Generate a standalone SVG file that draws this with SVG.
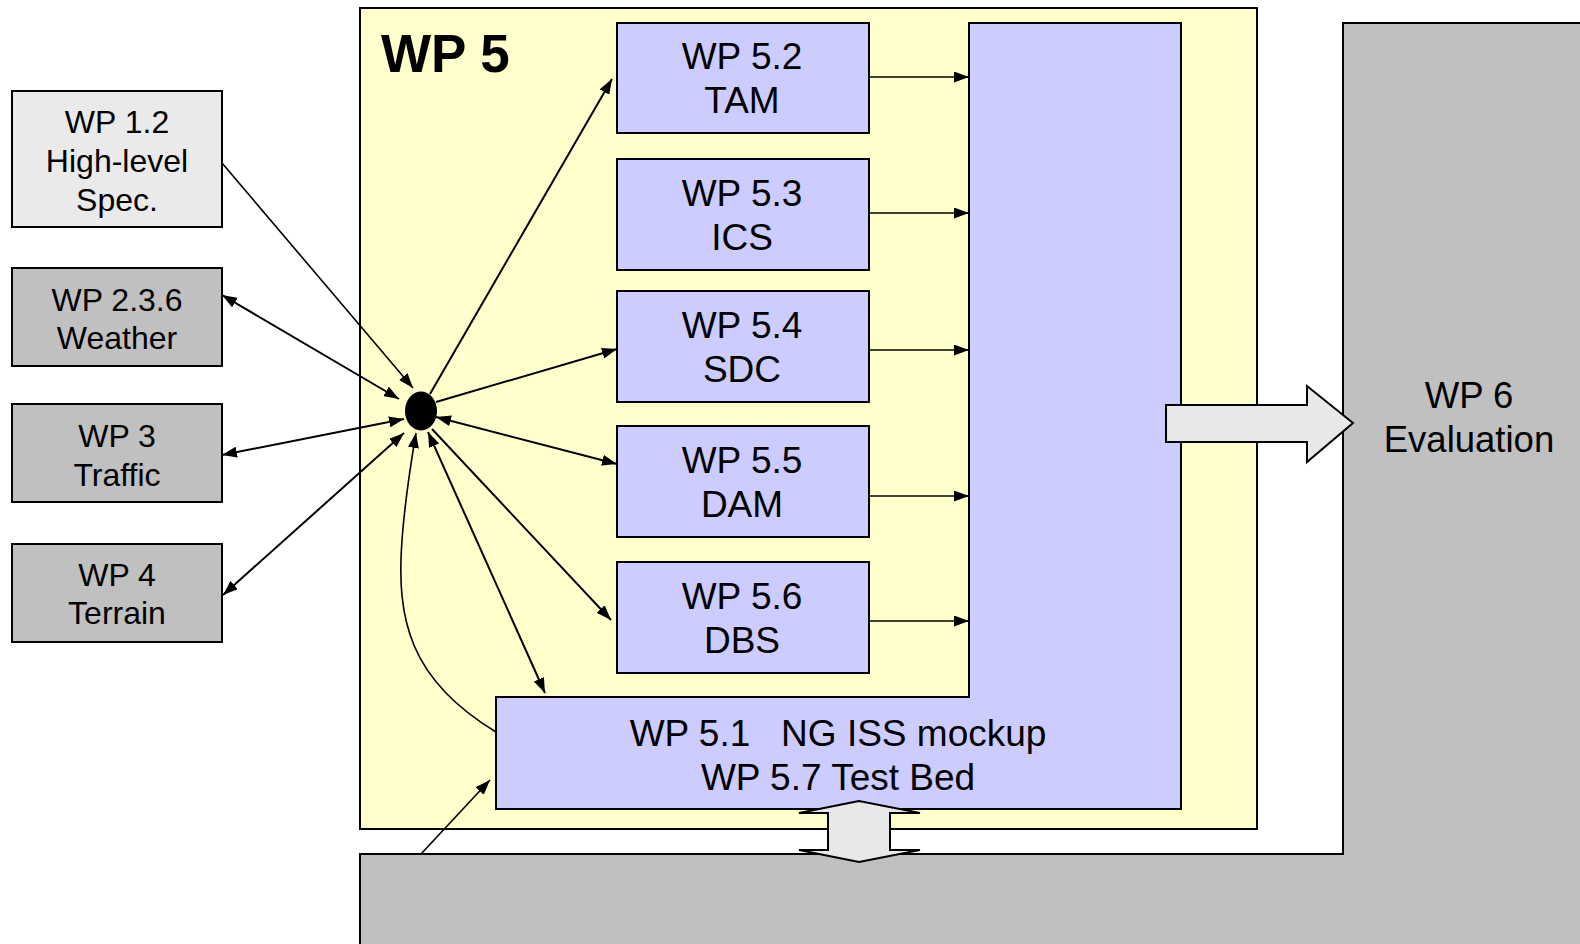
<svg xmlns="http://www.w3.org/2000/svg" width="1580" height="944" viewBox="0 0 1580 944">
<style>
text{font-family:"Liberation Sans",Arial,sans-serif;fill:#000;text-anchor:middle}
.lt{font-size:32px}
.bt{font-size:37px}
.et{font-size:36.5px}
.box{stroke:#000;stroke-width:2}
.blue{fill:#ccccff}
.gray{fill:#c0c0c0}
.con{fill:none;stroke:#000;stroke-width:2}
.con1{fill:none;stroke:#000;stroke-width:1.6}
</style>
<defs>
<marker id="ah" viewBox="0 0 15 11" refX="15" refY="5.5" markerWidth="15" markerHeight="11" markerUnits="userSpaceOnUse" orient="auto-start-reverse">
<path d="M0,0 L15,5.5 L0,11 z" fill="#000"/>
</marker>
</defs>
<rect width="1580" height="944" fill="#fff"/>

<g id="wp5">
<rect x="360" y="8" width="897" height="821" fill="#ffffcc" class="box"/>
<text x="381" y="72" style="font-size:53px;font-weight:bold;text-anchor:start">WP 5</text>
</g>

<g id="wp6-testbed">
<rect x="1343" y="23" width="250" height="930" class="gray"/>
<rect x="360" y="854" width="1230" height="100" class="gray"/>
<path d="M360,944 V854 H1343 V23 H1580" fill="none" stroke="#000" stroke-width="2"/>
<text class="et" x="1469" y="408">WP 6</text>
<text class="et" x="1469" y="452">Evaluation</text>
</g>

<g id="wp51">
<path d="M969,23 H1181 V809 H496 V697 H969 Z" class="box blue"/>
<text class="bt" x="838" y="746" xml:space="preserve">WP 5.1   NG ISS mockup</text>
<text class="bt" x="838" y="790">WP 5.7 Test Bed</text>
</g>

<g id="wp12">
<rect x="12" y="91" width="210" height="136" fill="#eaeaea" class="box"/>
<text class="lt" x="117" y="133">WP 1.2</text>
<text class="lt" x="117" y="172">High-level</text>
<text class="lt" x="117" y="211">Spec.</text>
</g>
<g id="wp236">
<rect x="12" y="268" width="210" height="98" class="box gray"/>
<text class="lt" x="117" y="311">WP 2.3.6</text>
<text class="lt" x="117" y="349">Weather</text>
</g>
<g id="wp3">
<rect x="12" y="404" width="210" height="98" class="box gray"/>
<text class="lt" x="117" y="447">WP 3</text>
<text class="lt" x="117" y="486">Traffic</text>
</g>
<g id="wp4">
<rect x="12" y="544" width="210" height="98" class="box gray"/>
<text class="lt" x="117" y="586">WP 4</text>
<text class="lt" x="117" y="624">Terrain</text>
</g>

<g id="wp52">
<rect x="617" y="23" width="252" height="110" class="box blue"/>
<text class="bt" x="742" y="69">WP 5.2</text>
<text class="bt" x="742" y="113">TAM</text>
</g>
<g id="wp53">
<rect x="617" y="159" width="252" height="111" class="box blue"/>
<text class="bt" x="742" y="206">WP 5.3</text>
<text class="bt" x="742" y="250">ICS</text>
</g>
<g id="wp54">
<rect x="617" y="291" width="252" height="111" class="box blue"/>
<text class="bt" x="742" y="338">WP 5.4</text>
<text class="bt" x="742" y="382">SDC</text>
</g>
<g id="wp55">
<rect x="617" y="426" width="252" height="111" class="box blue"/>
<text class="bt" x="742" y="473">WP 5.5</text>
<text class="bt" x="742" y="517">DAM</text>
</g>
<g id="wp56">
<rect x="617" y="562" width="252" height="111" class="box blue"/>
<text class="bt" x="742" y="609">WP 5.6</text>
<text class="bt" x="742" y="653">DBS</text>
</g>

<g id="hub">
<ellipse cx="421" cy="411" rx="16" ry="19.5" fill="#000"/>
</g>

<g id="connectors">
<path class="con1" d="M222,163 L413,388" marker-end="url(#ah)"/>
<path class="con" d="M222,295 L399,399" marker-start="url(#ah)" marker-end="url(#ah)"/>
<path class="con" d="M222,455 L404,419" marker-start="url(#ah)" marker-end="url(#ah)"/>
<path class="con" d="M223,595 L404,433" marker-start="url(#ah)" marker-end="url(#ah)"/>
<path class="con" d="M430,394 L612,79" marker-end="url(#ah)"/>
<path class="con" d="M436,402 L617,349" marker-end="url(#ah)"/>
<path class="con" d="M436,417 L617,464" marker-start="url(#ah)" marker-end="url(#ah)"/>
<path class="con" d="M432,429 L611,620" marker-end="url(#ah)"/>
<path class="con" d="M428,432 L545,693" marker-start="url(#ah)" marker-end="url(#ah)"/>
<path class="con1" d="M496,732 C410,680 396,620 402,540 C405,500 410,468 416,433" marker-end="url(#ah)"/>
<path class="con1" d="M421,854 L490,780" marker-end="url(#ah)"/>
<path class="con1" d="M869,77 H969" marker-end="url(#ah)"/>
<path class="con1" d="M869,213 H969" marker-end="url(#ah)"/>
<path class="con1" d="M869,350 H969" marker-end="url(#ah)"/>
<path class="con1" d="M869,496 H969" marker-end="url(#ah)"/>
<path class="con1" d="M869,621 H969" marker-end="url(#ah)"/>
<path d="M1166,405 H1307 V386 L1353,423 L1307,462 V442 H1166 Z" fill="#e8e8e8" stroke="#000" stroke-width="2"/>
<path d="M859,801 L799,813 H828 V850 H799 L859,862 L920,850 H890 V813 H920 Z" fill="#e8e8e8" stroke="#000" stroke-width="2"/>
</g>
</svg>
